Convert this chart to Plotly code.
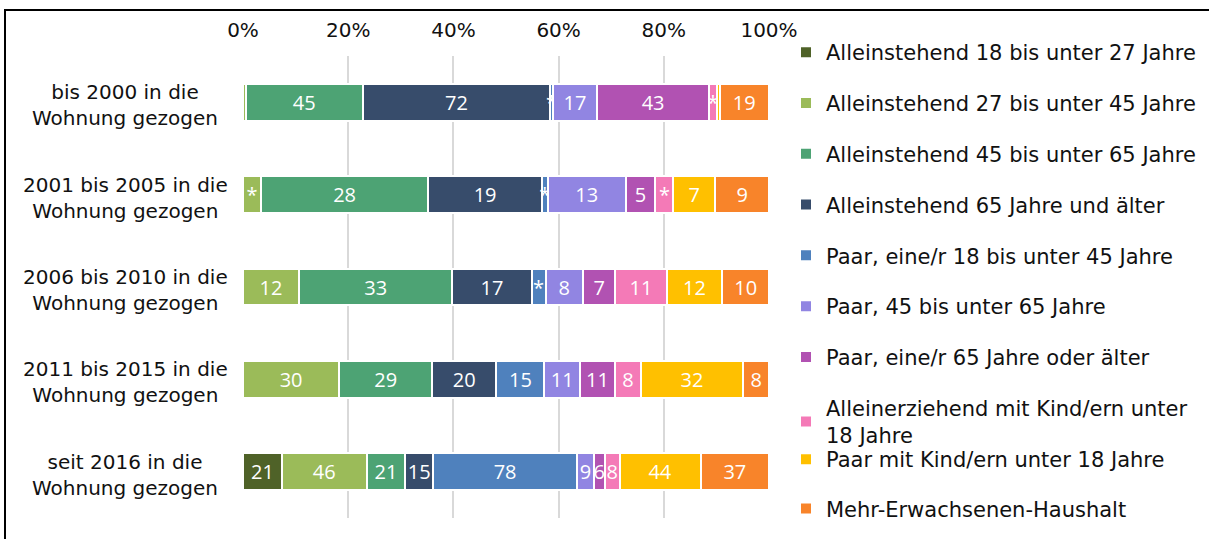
import plotly.graph_objects as go

categories = [
    "bis 2000 in die<br>Wohnung gezogen",
    "2001 bis 2005 in die<br>Wohnung gezogen",
    "2006 bis 2010 in die<br>Wohnung gezogen",
    "2011 bis 2015 in die<br>Wohnung gezogen",
    "seit 2016 in die<br>Wohnung gezogen",
]

series_names = [
    "Alleinstehend 18 bis unter 27 Jahre",
    "Alleinstehend 27 bis unter 45 Jahre",
    "Alleinstehend 45 bis unter 65 Jahre",
    "Alleinstehend 65 Jahre und älter",
    "Paar, eine/r 18 bis unter 45 Jahre",
    "Paar, 45 bis unter 65 Jahre",
    "Paar, eine/r 65 Jahre oder älter",
    "Alleinerziehend mit Kind/ern unter<br>18 Jahre",
    "Paar mit Kind/ern unter 18 Jahre",
    "Mehr-Erwachsenen-Haushalt",
]

# counts per series, one value per category (top to bottom)
allein_18_27 = [0, 0, 0, 0, 21]
allein_27_45 = [1, 3, 12, 30, 46]
allein_45_65 = [45, 28, 33, 29, 21]
allein_65 = [72, 19, 17, 20, 15]
paar_18_45 = [1, 1, 3, 15, 78]
paar_45_65 = [17, 13, 8, 11, 9]
paar_65 = [43, 5, 7, 11, 6]
alleinerz = [3, 3, 11, 8, 8]
paar_kind = [1, 7, 12, 32, 44]
mehr_erw = [19, 9, 10, 8, 37]

# data labels as printed ("*" = suppressed small value)
lab_allein_18_27 = ["", "", "", "", "21"]
lab_allein_27_45 = ["", "*", "12", "30", "46"]
lab_allein_45_65 = ["45", "28", "33", "29", "21"]
lab_allein_65 = ["72", "19", "17", "20", "15"]
lab_paar_18_45 = ["*", "*", "*", "15", "78"]
lab_paar_45_65 = ["17", "13", "8", "11", "9"]
lab_paar_65 = ["43", "5", "7", "11", "6"]
lab_alleinerz = ["*", "*", "11", "8", "8"]
lab_paar_kind = ["", "7", "12", "32", "44"]
lab_mehr_erw = ["19", "9", "10", "8", "37"]

tick_vals = [0, 20, 40, 60, 80, 100]
tick_text = ["0%", "20%", "40%", "60%", "80%", "100%"]

series_values = [allein_18_27, allein_27_45, allein_45_65, allein_65, paar_18_45,
                 paar_45_65, paar_65, alleinerz, paar_kind, mehr_erw]
series_labels = [lab_allein_18_27, lab_allein_27_45, lab_allein_45_65, lab_allein_65,
                 lab_paar_18_45, lab_paar_45_65, lab_paar_65, lab_alleinerz,
                 lab_paar_kind, lab_mehr_erw]
colors = ["#4F6228", "#9BBB59", "#4DA374", "#374C6B", "#4F81BD",
          "#9185E2", "#B152B2", "#F47AB7", "#FFC000", "#F8842A"]

# figure geometry (pixels)
W, H = 1209, 539
L, R, T, B = 243, 440, 56, 21
pw, ph = W - L - R, H - T - B

def px_x(px):
    return (px - L) / pw

def px_y(py):
    return (H - B - py) / ph

AX_FONT = dict(family="DejaVu Sans", size=20, color="#111111")
LEG_FONT = dict(family="DejaVu Sans", size=21, color="#111111")

fig = go.Figure()
for i, (name, vals, labs, col) in enumerate(zip(series_names, series_values, series_labels, colors)):
    fig.add_trace(go.Bar(
        y=categories, x=vals, orientation="h", name=name,
        marker=dict(color=col, line=dict(color="white", width=2)),
        text=labs, textposition="inside", insidetextanchor="middle",
        textfont=dict(family="Open Sans", size=20, color="white"),
        legend="legend" if i < 8 else "legend2",
        legendgroup=name,
    ))

annotations = []
for c in categories:
    annotations.append(dict(
        x=px_x(125), xref="paper", y=c, yref="y", yshift=-3,
        text=c, showarrow=False, xanchor="center", yanchor="middle",
        align="center", font=AX_FONT,
    ))

fig.update_layout(
    width=W, height=H,
    margin=dict(l=L, r=R, t=T, b=B, pad=0, autoexpand=False),
    paper_bgcolor="white", plot_bgcolor="white",
    barmode="stack", barnorm="percent", bargap=0.6,
    uniformtext=dict(minsize=20, mode="show"),
    xaxis=dict(range=[0, 100], tickvals=tick_vals, ticktext=tick_text, side="top",
               showgrid=True, gridcolor="#d9d9d9", gridwidth=2, zeroline=False,
               showline=False, ticks="", tickfont=AX_FONT, ticklabelstandoff=14,
               fixedrange=True),
    yaxis=dict(categoryorder="array", categoryarray=categories, autorange="reversed",
               showticklabels=False, showgrid=False, zeroline=False, fixedrange=True),
    legend=dict(x=px_x(786), y=px_y(32), xanchor="left", yanchor="top",
                font=LEG_FONT, tracegroupgap=20.5, traceorder="grouped", maxheight=520,
                bgcolor="rgba(0,0,0,0)", itemclick=False),
    legend2=dict(x=px_x(786), y=px_y(439), xanchor="left", yanchor="top",
                 font=LEG_FONT, tracegroupgap=19, traceorder="grouped", maxheight=200,
                 bgcolor="rgba(0,0,0,0)", itemclick=False),
    annotations=annotations,
    shapes=[
        dict(type="line", xref="paper", yref="paper",
             x0=px_x(4), x1=px_x(1209), y0=px_y(10), y1=px_y(10),
             line=dict(color="black", width=2), layer="below"),
        dict(type="line", xref="paper", yref="paper",
             x0=px_x(5), x1=px_x(5), y0=px_y(9), y1=px_y(539),
             line=dict(color="black", width=2), layer="below"),
    ],
    showlegend=True,
)

fig.write_html("out.html", config={"displayModeBar": False},
               post_script="document.body.style.margin='0px';document.body.style.overflow='hidden';")
